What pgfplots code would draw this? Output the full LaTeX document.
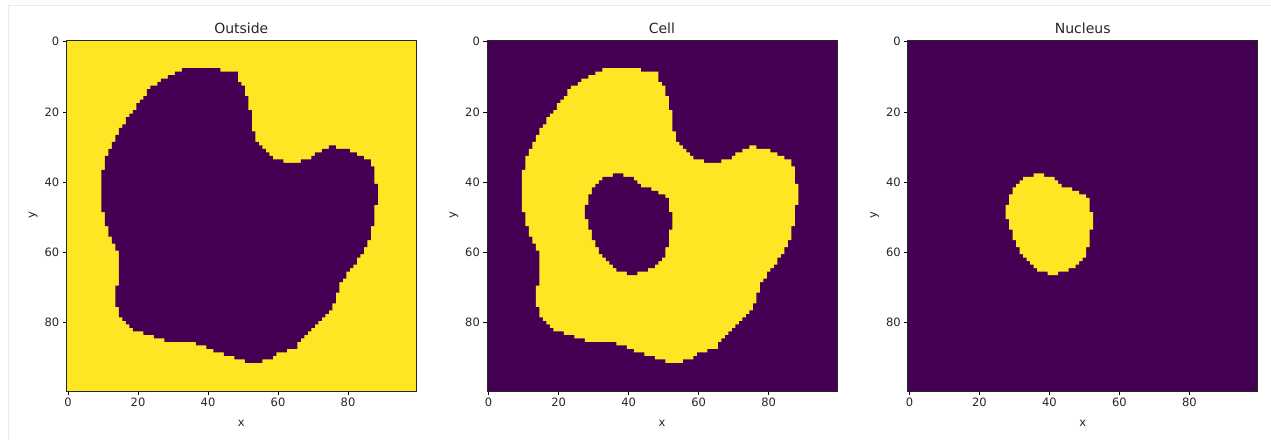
\documentclass[border=0pt]{standalone}
\usepackage{pgfplots}
\pgfplotsset{compat=1.18}
\usepackage{pgfplotstable}
\usepackage{fontspec}
\setmainfont{DejaVu Sans}
\definecolor{vdark}{RGB}{68,1,84}
\definecolor{vyellow}{RGB}{253,231,37}

% cell boundary (pixel-edge coordinates)
\pgfplotstableread{
x y
33 8
44 8
44 9
49 9
49 12
50 12
50 13
51 13
51 16
52 16
52 20
53 20
53 26
54 26
54 29
55 29
55 30
56 30
56 31
57 31
57 32
58 32
58 33
59 33
59 34
62 34
62 35
67 35
67 34
70 34
70 33
71 33
71 32
73 32
73 31
75 31
75 30
77 30
77 31
81 31
81 32
83 32
83 33
85 33
85 34
87 34
87 36
88 36
88 41
89 41
89 47
88 47
88 53
87 53
87 57
86 57
86 59
85 59
85 61
84 61
84 62
83 62
83 64
82 64
82 65
81 65
81 66
80 66
80 68
79 68
79 69
78 69
78 72
77 72
77 75
76 75
76 77
75 77
75 78
74 78
74 79
73 79
73 80
72 80
72 81
71 81
71 82
70 82
70 83
69 83
69 84
68 84
68 85
67 85
67 86
66 86
66 88
63 88
63 89
60 89
60 90
59 90
59 91
56 91
56 92
51 92
51 91
48 91
48 90
45 90
45 89
42 89
42 88
40 88
40 87
37 87
37 86
28 86
28 85
25 85
25 84
22 84
22 83
19 83
19 82
18 82
18 81
17 81
17 80
16 80
16 79
15 79
15 76
14 76
14 70
15 70
15 60
14 60
14 58
13 58
13 56
12 56
12 53
11 53
11 49
10 49
10 37
11 37
11 33
12 33
12 31
13 31
13 29
14 29
14 27
15 27
15 25
16 25
16 24
17 24
17 22
18 22
18 21
19 21
19 20
20 20
20 18
21 18
21 17
22 17
22 16
23 16
23 14
24 14
24 13
26 13
26 12
27 12
27 11
29 11
29 10
31 10
31 9
33 9
}\outerblob

% nucleus boundary (pixel-edge coordinates)
\pgfplotstableread{
x y
36 38
39 38
39 39
42 39
42 40
43 40
43 41
44 41
44 42
47 42
47 43
49 43
49 44
51 44
51 45
52 45
52 49
53 49
53 54
52 54
52 59
51 59
51 62
50 62
50 63
49 63
49 64
48 64
48 65
46 65
46 66
43 66
43 67
40 67
40 66
37 66
37 65
36 65
36 64
35 64
35 63
34 63
34 62
33 62
33 61
32 61
32 59
31 59
31 57
30 57
30 54
29 54
29 51
28 51
28 47
29 47
29 44
30 44
30 42
31 42
31 41
32 41
32 40
33 40
33 39
36 39
}\nucleus

\pgfplotsset{
  maskaxis/.style={
    scale only axis, width=350pt, height=351pt,
    anchor=north west,
    xmin=-0.5, xmax=99.5, ymin=-0.5, ymax=99.5, y dir=reverse,
    xtick={0,20,40,60,80}, ytick={0,20,40,60,80},
    tick align=outside, xtick pos=bottom, ytick pos=left,
    major tick length=3.5pt,
    tick style={black, line width=0.8pt},
    axis line style={line width=0.8pt, black!85},
    axis on top,
    ticklabel style={font=\fontsize{11.5}{13}\selectfont, text=black!85},
    /pgf/number format/assume math mode=true,
    xlabel=x, ylabel=y,
    label style={font=\fontsize{11.5}{13}\selectfont, text=black!85},
    xlabel style={at={(axis description cs:0.5,-0.091)}, anchor=center},
    ylabel style={at={(axis description cs:-0.0943,0.5)}, anchor=center},
    title style={at={(axis description cs:0.5,1.017)}, anchor=center, yshift=0pt, font=\fontsize{14}{16}\selectfont, text=black!85},
  }
}

\begin{document}
\begin{tikzpicture}
\useasboundingbox (0pt,0pt) rectangle (1271pt,-440pt);
\draw[black!8, line width=1pt] (8pt,-440pt) -- (8pt,-5pt) -- (1271pt,-5pt);

\begin{axis}[maskaxis, at={(66.3pt,-40pt)}, title=Outside,
  axis background/.style={fill=vyellow}]
\addplot[fill=vdark, draw=none] table[x expr=\thisrow{x}-0.5, y expr=\thisrow{y}-0.5] {\outerblob} -- cycle;
\end{axis}

\begin{axis}[maskaxis, at={(486.9pt,-40pt)}, title=Cell,
  axis background/.style={fill=vdark}]
\addplot[fill=vyellow, draw=none] table[x expr=\thisrow{x}-0.5, y expr=\thisrow{y}-0.5] {\outerblob} -- cycle;
\addplot[fill=vdark, draw=none] table[x expr=\thisrow{x}-0.5, y expr=\thisrow{y}-0.5] {\nucleus} -- cycle;
\end{axis}

\begin{axis}[maskaxis, at={(907.7pt,-40pt)}, title=Nucleus,
  axis background/.style={fill=vdark}]
\addplot[fill=vyellow, draw=none] table[x expr=\thisrow{x}-0.5, y expr=\thisrow{y}-0.5] {\nucleus} -- cycle;
\end{axis}
\end{tikzpicture}
\end{document}
